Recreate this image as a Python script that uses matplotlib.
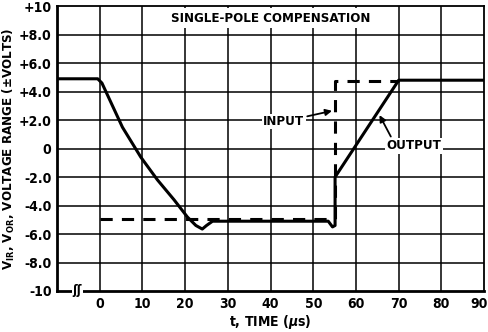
import matplotlib
matplotlib.use("Agg")
import matplotlib.pyplot as plt
import matplotlib.transforms as mtransforms

fam = "DejaVu Sans"
plt.rcParams['font.family'] = [fam]
plt.rcParams['font.stretch'] = 'condensed'
plt.rcParams['font.weight'] = 'bold'
plt.rcParams['axes.labelweight'] = 'bold'
plt.rcParams['mathtext.fontset'] = 'dejavusans'

# Data
out_t = [-10, -0.5, 0.5, 5.3, 9.6, 13.5, 17.4, 20.5, 22.5, 24.0, 25.0, 26.4, 53.5, 54.5, 55.1, 55.1, 70, 90]
out_v = [4.9, 4.9, 4.6, 1.5, -0.6, -2.2, -3.6, -4.8, -5.4, -5.65, -5.4, -5.1, -5.1, -5.5, -5.4, -2.0, 4.8, 4.8]
in_t = [0, 55.1, 55.1, 70]
in_v = [-4.95, -4.95, 4.75, 4.75]

xticks = [0, 10, 20, 30, 40, 50, 60, 70, 80, 90]
xticklabels = ["0", "10", "20", "30", "40", "50", "60", "70", "80", "90"]
yticks = [10, 8, 6, 4, 2, 0, -2, -4, -6, -8, -10]
yticklabels = ["+10", "+8.0", "+6.0", "+4.0", "+2.0", "0", "-2.0", "-4.0", "-6.0", "-8.0", "-10"]

fig = plt.figure(figsize=(4.88, 3.32), dpi=100)
ax = fig.add_axes([0.117, 0.1235, 0.875, 0.858])
ax.set_xlim(-10, 90)
ax.set_ylim(-10, 10)

for x in xticks[:-1]:
    ax.axvline(x, color='black', lw=1.1, zorder=1)
for y in yticks[1:-1]:
    ax.axhline(y, color='black', lw=1.1, zorder=1)

ax.plot(in_t, in_v, color='black', lw=2.2, ls=(0, (4, 3)), zorder=3)
ax.plot(out_t, out_v, color='black', lw=2.2, solid_joinstyle='round', zorder=4)

ax.set_xticks(xticks)
ax.set_xticklabels(xticklabels)
ax.set_yticks(yticks)
ax.set_yticklabels(yticklabels)
ax.tick_params(length=0, labelsize=10, pad=4)
labs = ax.get_xticklabels()
labs[-1].set_transform(labs[-1].get_transform() + mtransforms.ScaledTranslation(-5/100, 0, fig.dpi_scale_trans))

for side, lw in (('left', 2.0), ('bottom', 2.0), ('top', 1.3), ('right', 1.3)):
    ax.spines[side].set_linewidth(lw)
    ax.spines[side].set_color('black')

ax.set_xlabel(r"t, TIME ($\mu$s)", fontsize=10, fontweight='bold', labelpad=2)
ax.set_ylabel(r"V$_{\mathbf{IR}}$, V$_{\mathbf{OR}}$, VOLTAGE RANGE ($\pm$VOLTS)", fontsize=9.5, fontweight='bold')
ax.yaxis.set_label_coords(-0.094, 0.5)

ax.text(40, 9.15, "SINGLE-POLE COMPENSATION", ha='center', va='center', fontsize=9.5,
        bbox=dict(facecolor='white', edgecolor='none', pad=2.5), zorder=5)

ax.annotate("INPUT", xy=(54.4, 2.65), xytext=(38.3, 1.9), ha='left', va='center', fontsize=9.5,
            bbox=dict(facecolor='white', edgecolor='none', pad=1),
            arrowprops=dict(arrowstyle='-|>', color='black', lw=1.3, shrinkA=1, shrinkB=0), zorder=5)
ax.annotate("OUTPUT", xy=(65.5, 2.35), xytext=(67.2, 0.2), ha='left', va='center', fontsize=9.5,
            bbox=dict(facecolor='white', edgecolor='none', pad=1),
            arrowprops=dict(arrowstyle='-|>', color='black', lw=1.3, shrinkA=1, shrinkB=0,
                            relpos=(0.1, 1.0)), zorder=5)

ax.text(-5.3, -10, "\u0283\u0283", ha='center', va='center', fontsize=9,
        bbox=dict(facecolor='white', edgecolor='none', pad=0.5), clip_on=False, zorder=6)

fig.savefig("out.png", dpi=100)
